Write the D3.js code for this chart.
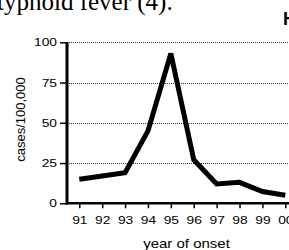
<!DOCTYPE html>
<html>
<head>
<meta charset="utf-8">
<script src="https://cdn.jsdelivr.net/npm/d3@7/dist/d3.min.js"></script>
<style>
  body { margin: 0; background: #fff; }
  svg { display: block; }
</style>
</head>
<body>
<div id="chart"></div>
<script>
var width = 289;
var height = 250;

// typhoid cases per 100,000 by year of onset
var years = ["91", "92", "93", "94", "95", "96", "97", "98", "99", "00"];
var cases = [15, 17, 19, 45, 93, 27, 12, 13, 7.3, 5];
var yTicks = [0, 25, 50, 75, 100];

var svg = d3.select("#chart")
    .append("svg")
    .attr("width", width)
    .attr("height", height);

var x = d3.scalePoint()
    .domain(years)
    .range([79.3, 285.3]);

var y = d3.scaleLinear()
    .domain([0, 100])
    .range([203.3, 42.3]);

var font = "'Liberation Sans', Arial, Helvetica, sans-serif";

// text above the figure (cut off page text)
svg.append("text")
    .attr("x", -3)
    .attr("y", 9.5)
    .attr("font-family", "'Liberation Serif', 'Times New Roman', serif")
    .attr("font-size", 25)
    .attr("fill", "#000")
    .text("typhoid fever (4).");

svg.append("text")
    .attr("x", 283)
    .attr("y", 25)
    .attr("font-family", font)
    .attr("font-weight", "bold")
    .attr("font-size", 18)
    .text("H");

// dotted gridlines
svg.append("g")
    .selectAll("line")
    .data(yTicks.filter(function(d){ return d > 0; }))
    .enter()
        .append("line")
        .attr("x1", 67)
        .attr("x2", width)
        .attr("y1", function(d){ return Math.round(y(d)) + 0.5; })
        .attr("y2", function(d){ return Math.round(y(d)) + 0.5; })
        .attr("stroke", "#333")
        .attr("stroke-width", 1)
        .attr("stroke-dasharray", "1,1");

// x axis
var xAxis = svg.append("g")
    .attr("transform", "translate(0," + y(0) + ")")
    .call(d3.axisBottom(x).tickSize(5).tickPadding(8).tickSizeOuter(0));
xAxis.select(".domain").remove();
xAxis.selectAll(".tick line").attr("stroke-width", 1.5);
xAxis.selectAll(".tick text")
    .attr("font-family", font)
    .attr("font-size", 11.5)
    .attr("fill", "#000")
    .attr("transform", "scale(1.2,1)");
xAxis.append("line")
    .attr("x1", 66)
    .attr("x2", width)
    .attr("stroke", "#000")
    .attr("stroke-width", 2.4);

// y axis
var yAxis = svg.append("g")
    .attr("transform", "translate(67,0)")
    .call(d3.axisLeft(y).tickValues(yTicks).tickSize(7).tickPadding(3).tickSizeOuter(0));
yAxis.select(".domain").remove();
yAxis.selectAll(".tick line").attr("stroke-width", 1.5);
yAxis.selectAll(".tick text")
    .attr("font-family", font)
    .attr("font-size", 11.5)
    .attr("fill", "#000")
    .attr("x", -10 / 1.2)
    .attr("transform", "scale(1.2,1)");
yAxis.append("line")
    .attr("y1", y(100))
    .attr("y2", y(0) + 1)
    .attr("stroke", "#000")
    .attr("stroke-width", 3);

// axis titles
svg.append("text")
    .attr("transform", "translate(25,119.5) rotate(-90)")
    .attr("text-anchor", "middle")
    .attr("font-family", font)
    .attr("font-size", 13)
    .text("cases/100,000");

svg.append("text")
    .attr("transform", "translate(186.5,248) scale(1.2,1)")
    .attr("text-anchor", "middle")
    .attr("font-family", font)
    .attr("font-size", 12.5)
    .text("year of onset");

// data line
var line = d3.line()
    .x(function(d, i){ return x(years[i]); })
    .y(function(d){ return y(d); });

svg.append("path")
    .datum(cases)
    .attr("d", line)
    .attr("fill", "none")
    .attr("stroke", "#000")
    .attr("stroke-width", 5)
    .attr("stroke-linejoin", "miter")
    .attr("stroke-miterlimit", 2);
</script>
</body>
</html>
